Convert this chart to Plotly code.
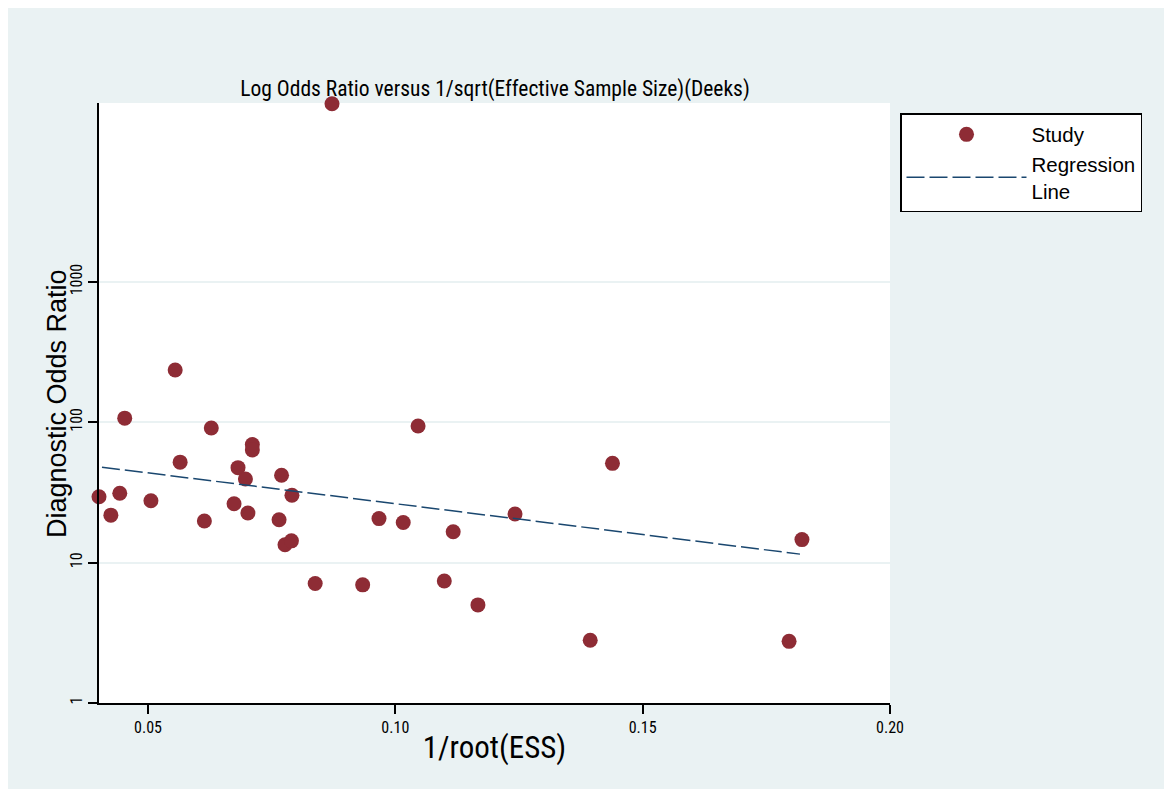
import plotly.graph_objects as go

# Study data: x = 1/sqrt(ESS), y = diagnostic odds ratio
study_x = [0.0401, 0.0425, 0.0443, 0.0453, 0.0506, 0.0555, 0.0565, 0.0614, 0.0628,
           0.0674, 0.0682, 0.0697, 0.0702, 0.0711, 0.0711, 0.0765, 0.0770, 0.0777,
           0.0790, 0.0791, 0.0838, 0.0872, 0.0934, 0.0967, 0.1016, 0.1046, 0.1099,
           0.1117, 0.1167, 0.1242, 0.1394, 0.1439, 0.1796, 0.1822]
study_dor = [29.5, 21.8, 31.2, 107, 27.6, 236, 52, 19.8, 91, 26.3, 47.5, 39.4, 22.6,
             69.5, 63.6, 20.2, 42, 13.4, 14.3, 30.2, 7.1, 18600, 6.95, 20.6, 19.3, 94,
             7.4, 16.6, 5.0, 22.2, 2.8, 51, 2.75, 14.6]

# Regression line endpoints
reg_x = [0.0407, 0.1818]
reg_y = [47.9, 11.5]

x_ticks = [0.05, 0.10, 0.15, 0.20]
x_ticktext = ["0.05", "0.10", "0.15", "0.20"]
y_ticks = [1, 10, 100, 1000]
y_ticktext = ["1", "10", "100", "1000"]

BG = "#EAF2F3"
NARROW = "Liberation Sans Narrow, Arial Narrow, Roboto Condensed, sans-serif"
REG = "Liberation Sans, Arial, sans-serif"

fig = go.Figure()
fig.add_trace(go.Scatter(
    x=study_x, y=study_dor, mode="markers", name="Study",
    marker=dict(color="#8E2C35", size=15, line=dict(width=0)),
    cliponaxis=False,
))
fig.add_trace(go.Scatter(
    x=reg_x, y=reg_y, mode="lines", name="Regression<br>Line",
    line=dict(color="#1A476F", width=1.5, dash="18px,5px"),
))

# figure is placed at (8, 8) in the page by the default body margin
W, H = 1164, 781
ml, mr, mt, mb = 91, 282, 95, 86
pw, ph = W - ml - mr, H - mt - mb


def px2paper_x(px):
    return (px - ml) / pw


def px2paper_y(py):
    return (H - mb - py) / ph


fig.add_annotation(text="Diagnostic Odds Ratio", xref="paper", yref="paper",
                   x=px2paper_x(49), y=px2paper_y(396), xanchor="center", yanchor="middle",
                   textangle=-90, showarrow=False,
                   font=dict(family=REG, size=27, color="black"))

fig.update_layout(
    width=W, height=H,
    margin=dict(l=ml, r=mr, t=mt, b=mb),
    paper_bgcolor=BG, plot_bgcolor="white",
    title=dict(text="Log Odds Ratio versus 1/sqrt(Effective Sample Size)(Deeks)",
               x=487 / W, xanchor="center", y=1 - 80 / H, yanchor="middle",
               font=dict(family=NARROW, size=21.5, color="black")),
    showlegend=True,
    legend=dict(x=px2paper_x(892), y=px2paper_y(105), xanchor="left", yanchor="top",
                bgcolor="white", bordercolor="black", borderwidth=1.5,
                font=dict(family=REG, size=20.5, color="black"),
                itemwidth=120, tracegroupgap=4),
    xaxis=dict(range=[0.0401, 0.20], tickvals=x_ticks, ticktext=x_ticktext,
               showgrid=False, zeroline=False, showline=True, linecolor="black", linewidth=1.5,
               ticks="outside", ticklen=9, tickcolor="black", tickwidth=1.5,
               tickfont=dict(family=NARROW, size=16, color="black"),
               title=dict(text="1/root(ESS)", font=dict(family=NARROW, size=31, color="black"),
                          standoff=0)),
    yaxis=dict(type="log", range=[0, 4.275], tickvals=y_ticks, ticktext=y_ticktext,
               showgrid=True, gridcolor=BG, gridwidth=2, zeroline=False,
               showline=True, linecolor="black", linewidth=1.5,
               ticks="outside", ticklen=9, tickcolor="black", tickwidth=1.5,
               tickangle=-90,
               tickfont=dict(family=NARROW, size=16, color="black")),
)

fig.write_html("out.html", post_script="document.body.style.overflow='hidden';")
